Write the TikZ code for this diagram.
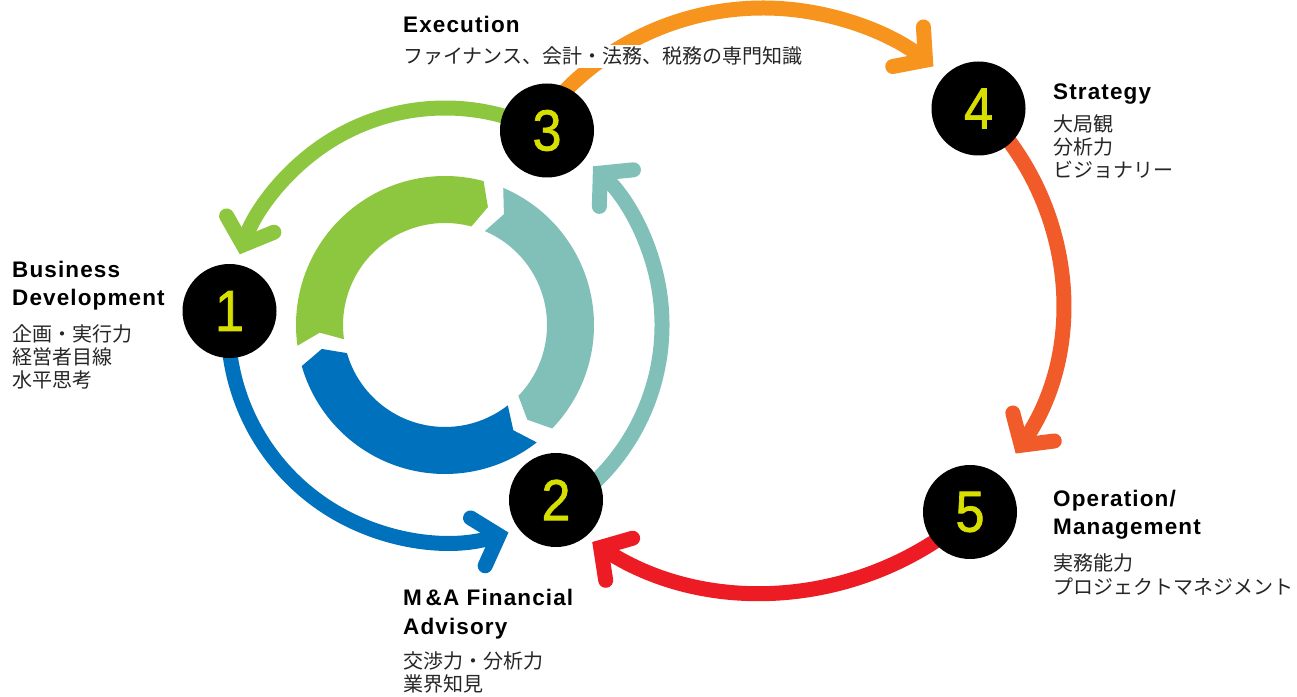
\documentclass[tikz,border=0pt]{standalone}
\usepackage{fontspec}
\usetikzlibrary{arrows.meta}
\newfontfamily\headfont{Liberation Sans}[LetterSpace=5]
\newfontfamily\jpfont{Noto Sans CJK JP}
\newfontfamily\digitfont{Liberation Sans}[FakeStretch=0.9, FakeBold=1.2]
\definecolor{ringgreen}{HTML}{8DC63F}
\definecolor{ringteal}{HTML}{80C0B8}
\definecolor{ringblue}{HTML}{0071BC}
\definecolor{arrorange}{HTML}{F7941D}
\definecolor{arrorred}{HTML}{F15A29}
\definecolor{arrred}{HTML}{ED1C24}
\definecolor{numyellow}{HTML}{D7DF00}
\definecolor{jpgray}{HTML}{262626}
\tikzset{
  numcirc/.style={circle, fill=black, minimum size=94pt, inner sep=0pt, text=numyellow,
    font=\digitfont\fontsize{58}{58}\selectfont},
  headtxt/.style={anchor=base west, inner sep=0pt, font=\headfont\bfseries\fontsize{22.5}{26}\selectfont},
  jptxt/.style={anchor=base west, inner sep=0pt, text=jpgray, font=\jpfont\fontsize{20}{23}\selectfont},
  flow/.style={line width=15pt, line cap=round,
    -{Straight Barb[length=22pt,width=50pt,line cap=round,line join=miter]}},
}
\begin{document}
\begin{tikzpicture}[x=1pt,y=1pt]
\useasboundingbox (0,0) rectangle (1297,696);
% centres
\coordinate (c1) at (445,371);
\coordinate (corange) at (763,410);
\coordinate (corred) at (791,394);
\coordinate (cred) at (763,421);

% inner ring of three arrow segments
\begin{scope}[shift={(c1)}]
\fill[ringgreen] (188:149) arc[start angle=188, end angle=75, radius=149] -- (70:125.5)
  -- (75:102) arc[start angle=75, end angle=188, radius=102] -- (183.5:125.5) -- cycle;
\fill[ringteal] (67:149) arc[start angle=67, end angle=-44, radius=149] -- (-49:125.5)
  -- (-44:102) arc[start angle=-44, end angle=67, radius=102] -- (62:125.5) -- cycle;
\fill[ringblue] (-52:149) arc[start angle=-52, end angle=-164, radius=149] -- (-169:125.5)
  -- (-164:102) arc[start angle=-164, end angle=-52, radius=102] -- (-57:125.5) -- cycle;
\end{scope}

% connectors
\draw[flow, ringgreen] ([shift={(66:217)}]c1) arc[start angle=66, end angle=161, radius=217];
\draw[flow, ringblue] ([shift={(180:217)}]c1) arc[start angle=180, end angle=287, radius=217];
\draw[flow, ringteal] ([shift={(-50:217)}]c1) arc[start angle=-50, end angle=47, radius=217];
\draw[flow, arrorange] ([shift={(144:278)}]corange) arc[start angle=144, end angle=52.2, radius=278];
\draw[flow, arrorred] ([shift={(46:271)}]corred) arc[start angle=46, end angle=-34, radius=271];
\draw[flow, arrred] ([shift={(-49:317)}]cred) arc[start angle=-49, end angle=-122.6, radius=317];

% numbered circles
\node[numcirc] (n1) at (229.5,385) {1};
\node[numcirc] (n2) at (556,196) {2};
\node[numcirc] (n3) at (547,565.5) {3};
\node[numcirc] (n4) at (978.5,587.5) {4};
\node[numcirc] (n5) at (970,184) {5};

% texts: block 1
\node[headtxt] (t1a) at (12,418) {Business};
\node[headtxt] (t1b) at (12,390) {Development};
\node[jptxt] (t1c) at (12,354) {企画・実行力};
\node[jptxt] (t1d) at (12,331) {経営者目線};
\node[jptxt] (t1e) at (12,308) {水平思考};
% block 3
\node[headtxt] (t3a) at (403,663) {Execution};
\node[jptxt, fill=white, inner sep=2pt] (t3b) at (401,632) {ファイナンス、会計・法務、税務の専門知識};
% block 4
\node[headtxt] (t4a) at (1053,596) {Strategy};
\node[jptxt] (t4b) at (1053,564) {大局観};
\node[jptxt] (t4c) at (1053,541) {分析力};
\node[jptxt] (t4d) at (1053,518) {ビジョナリー};
% block 5
\node[headtxt] (t5a) at (1053,189) {Operation/};
\node[headtxt] (t5b) at (1053,161) {Management};
\node[jptxt] (t5c) at (1053,126) {実務能力};
\node[jptxt] (t5d) at (1053,102) {プロジェクトマネジメント};
% block 2
\node[headtxt] (t2a) at (403,91) {M\,\&A Financial};
\node[headtxt] (t2b) at (403,62) {Advisory};
\node[jptxt] (t2c) at (403,28) {交渉力・分析力};
\node[jptxt] (t2d) at (403,5) {業界知見};
\end{tikzpicture}
\end{document}
